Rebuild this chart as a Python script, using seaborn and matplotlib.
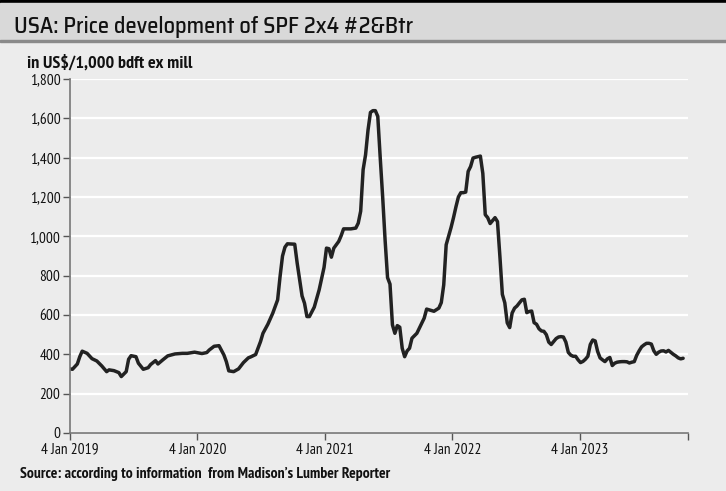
import pandas as pd
import seaborn as sns
import matplotlib.pyplot as plt
from matplotlib import font_manager
from matplotlib.patches import Rectangle
from matplotlib.ticker import FuncFormatter

# weekly prices, week 0 = 4 Jan 2019
weeks = [0, 1, 3, 4, 5, 7, 9, 11, 13, 15, 16, 18, 20, 21, 23, 24, 25, 27, 28, 30,
         32, 33, 35, 36, 38, 40, 43, 46, 48, 51, 54, 56, 57, 59, 61, 63, 64, 65, 67, 69,
         71, 73, 74, 76, 78, 79, 81, 83, 85, 86, 87, 88, 89, 92, 93, 95, 96, 97, 98, 100,
         102, 104, 105, 106, 107, 108, 110, 111, 112, 115, 117, 118, 119, 120, 121, 122, 123, 124, 125, 126,
         127, 128, 129, 130, 131, 132, 133, 134, 135, 136, 137, 138, 139, 140, 142, 143, 145, 146, 149, 151,
         152, 153, 154, 155, 156, 157, 158, 159, 160, 161, 162, 163, 164, 165, 166, 167, 168, 169, 170, 171,
         172, 173, 174, 175, 176, 177, 178, 179, 180, 181, 182, 183, 184, 185, 186, 187, 188, 189, 190, 191,
         192, 193, 194, 195, 196, 197, 198, 199, 200, 201, 202, 203, 204, 205, 206, 207, 208, 209, 210, 211,
         212, 213, 214, 215, 216, 217, 218, 219, 220, 221, 222, 223, 224, 225, 226, 227, 228, 229, 230, 231,
         232, 233, 234, 235, 236, 237, 238, 239, 240, 241, 242, 243, 244, 245, 246, 247, 248, 249, 250, 251]
prices = [326, 324, 351, 388, 416, 405, 378, 366, 341, 312, 321, 317, 307, 287, 312, 375, 393, 388, 355, 324,
          332, 348, 368, 351, 372, 392, 402, 405, 405, 411, 404, 409, 422, 441, 444, 397, 363, 316, 312, 326,
          358, 382, 387, 399, 465, 507, 553, 609, 677, 796, 900, 945, 962, 960, 864, 697, 660, 592, 592, 640,
          728, 842, 940, 937, 894, 940, 974, 1003, 1038, 1038, 1042, 1067, 1128, 1339, 1415, 1540, 1630, 1639, 1639, 1610,
          1400, 1200, 980, 790, 757, 550, 507, 546, 538, 431, 388, 417, 431, 482, 507, 533, 584, 630, 619, 635,
          663, 753, 957, 1000, 1045, 1095, 1150, 1200, 1222, 1222, 1225, 1330, 1355, 1398, 1402, 1405, 1408, 1320, 1110, 1095,
          1065, 1080, 1095, 1075, 897, 705, 662, 560, 536, 610, 635, 646, 662, 677, 680, 612, 618, 620, 561, 553,
          530, 519, 517, 500, 462, 450, 465, 480, 488, 490, 488, 462, 410, 396, 390, 390, 372, 358, 364, 375,
          390, 450, 473, 468, 415, 382, 372, 363, 377, 384, 343, 355, 360, 362, 363, 363, 362, 356, 360, 363,
          395, 418, 438, 448, 456, 456, 452, 418, 400, 411, 417, 418, 412, 420, 410, 400, 392, 382, 377, 380]

tick_dates = ['2019-01-04', '2020-01-04', '2021-01-04', '2022-01-04', '2023-01-04']
tick_labels = ['4 Jan 2019', '4 Jan 2020', '4 Jan 2021', '4 Jan 2022', '4 Jan 2023']
x_end = '2023-11-10'

title = 'USA: Price development of SPF 2x4 #2&Btr'
unit = 'in US\\$/1,000 bdft ex mill'
source = 'Source: according to information  from Madison\u2019s Lumber Reporter'


def pick_font(candidates):
    have = {f.name for f in font_manager.fontManager.ttflist}
    for c in candidates:
        if c in have:
            return c
    return 'DejaVu Sans'


title_font = pick_font(['Saira SemiCondensed', 'Saira', 'Exo 2', 'DejaVu Sans'])
body_font = pick_font(['PT Sans Narrow', 'Roboto Condensed', 'Liberation Sans Narrow', 'DejaVu Sans'])

df = pd.DataFrame({'date': pd.Timestamp('2019-01-04') + pd.to_timedelta(weeks, unit='W'),
                   'price': prices})

bg = '#ececec'
sns.set_style('whitegrid', {'axes.facecolor': bg, 'figure.facecolor': bg,
                            'grid.color': 'white', 'axes.edgecolor': '#777777'})
plt.rcParams['font.family'] = [body_font, 'DejaVu Sans']

fig = plt.figure(figsize=(7.26, 4.91), dpi=100)
ax = fig.add_axes([70 / 726, 1 - 433 / 491, 618 / 726, 354 / 491])
fig.canvas.draw()
renderer = fig.canvas.get_renderer()


def fit_size(text, family, target_px, weight='normal'):
    t = fig.text(0, 0, text, fontsize=10, family=family, fontweight=weight)
    w = t.get_window_extent(renderer).width
    t.remove()
    return 10 * target_px / w


tick_size = fit_size('4 Jan 2019', body_font, 58)

sns.lineplot(data=df, x='date', y='price', ax=ax, color='#222222', linewidth=2.5)

ax.set_ylim(0, 1800)
ax.set_yticks(range(0, 1801, 200))
ax.yaxis.set_major_formatter(FuncFormatter(lambda v, p: '{:,.0f}'.format(v)))
ax.set_xlim(pd.Timestamp(tick_dates[0]), pd.Timestamp(x_end))
ax.set_xticks([pd.Timestamp(d) for d in tick_dates] + [pd.Timestamp(x_end)])
ax.set_xticklabels(tick_labels + [''])
ax.set_xlabel('')
ax.set_ylabel('')

ax.grid(axis='x', visible=False)
ax.grid(axis='y', color='white', linewidth=1.6)
for s in ['top', 'right']:
    ax.spines[s].set_visible(False)
for s in ['left', 'bottom']:
    ax.spines[s].set_color('#777777')
    ax.spines[s].set_linewidth(1.2)
ax.tick_params(axis='both', length=5, width=1, color='#555555', labelsize=tick_size,
               labelcolor='#111111', direction='out', pad=2, left=True, bottom=True)

# title band
fig.patches.append(Rectangle((0, 1 - 3.5 / 491), 1, 3.5 / 491, transform=fig.transFigure,
                             color='black', zorder=0))
fig.patches.append(Rectangle((0, 1 - 40 / 491), 1, 36.5 / 491, transform=fig.transFigure,
                             color='#d9d9d9', zorder=0))
fig.patches.append(Rectangle((0, 1 - 41.5 / 491), 1, 1.5 / 491, transform=fig.transFigure,
                             color='#8a8a8a', zorder=0))

fig.text(14 / 726, 1 - 33 / 491, title, fontsize=fit_size(title, title_font, 400, 'medium'),
         family=title_font, fontweight='medium', va='baseline', ha='left', color='#111111')
fig.text(27 / 726, 1 - 68 / 491, unit, fontsize=fit_size(unit, body_font, 166, 'bold'),
         family=body_font, fontweight='bold', va='baseline', ha='left', color='#111111')
fig.text(20 / 726, 1 - 478 / 491, source, fontsize=fit_size(source, body_font, 372, 'bold'),
         family=body_font, fontweight='bold', va='baseline', ha='left', color='#111111')

fig.savefig('out.png', dpi=100, facecolor=bg)
